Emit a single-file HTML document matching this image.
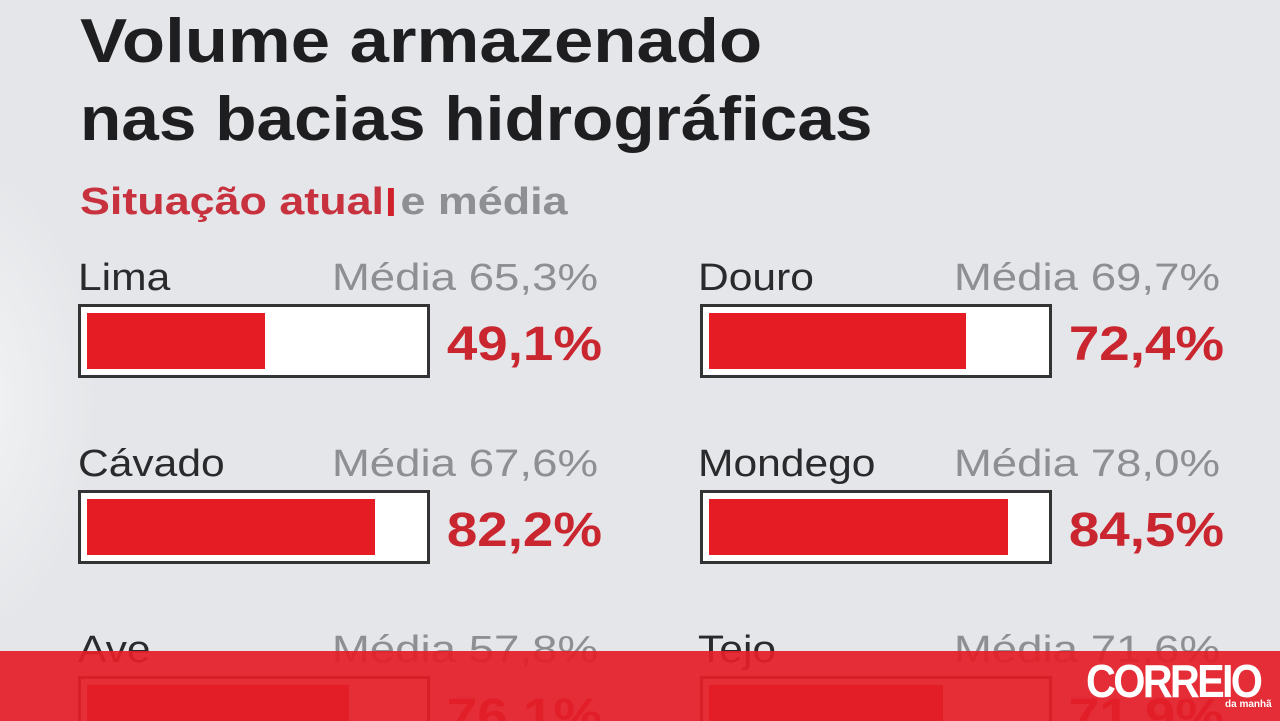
<!DOCTYPE html>
<html style="width:1280px;height:721px;overflow:hidden"><head><meta charset="utf-8"><style>
html,body{margin:0;width:1280px;height:721px;overflow:hidden}
body{background:#e4e6e9;font-family:"Liberation Sans",sans-serif;position:relative}
.glow{position:absolute;left:-200px;top:150px;width:300px;height:500px;background:radial-gradient(ellipse at center,#f4f5f6 0%,rgba(228,230,233,0) 70%)}
.t{position:absolute;left:80px;font-weight:bold;font-size:62px;line-height:62px;color:#1e1e20;white-space:nowrap;transform:scaleX(1.13);transform-origin:left}
.sub{position:absolute;left:80px;top:182px;font-weight:bold;font-size:38px;line-height:40px;white-space:nowrap;transform:scaleX(1.18);transform-origin:left}
.lab{position:absolute;font-size:38px;line-height:40px;color:#2a2a2c;transform:scaleX(1.12);transform-origin:left;white-space:nowrap}
.med{position:absolute;font-size:38px;line-height:40px;color:#8d8f93;text-align:right;width:300px;transform:scaleX(1.2);transform-origin:right;white-space:nowrap}
.box{position:absolute;width:352px;height:74px;border:3px solid #333;background:#fff;box-sizing:border-box}
.fill{position:absolute;left:6px;top:6px;bottom:6px;background:#e51c23}
.val{position:absolute;font-size:48px;line-height:50px;font-weight:bold;color:#c9262f;text-align:right;width:200px;transform:scaleX(1.14);transform-origin:right;white-space:nowrap}
.band{position:absolute;left:0;top:651px;width:1280px;height:70px;background:rgba(228,30,40,0.93)}
.logo{position:absolute;left:1086px;top:654px;color:#fff;font-weight:bold;font-size:46px;letter-spacing:-3px;transform:scaleX(0.9);transform-origin:left}
.dm{position:absolute;left:1225px;top:699px;color:#fff;font-size:10px;font-weight:bold}
</style></head><body>
<div class="glow"></div>
<div class="t" style="top:11px;transform:scaleX(1.14)">Volume armazenado</div>
<div class="t" style="top:89px;transform:scaleX(1.09)">nas bacias hidrográficas</div>
<div class="sub"><span style="color:#c8323e">Situação atual</span><span style="display:inline-block;width:5px;height:28px;background:#d0202a;margin:0 6px 0 3px;vertical-align:-2px"></span><span style="color:#8d8f93">e média</span></div>

<div class="lab" style="left:78px;top:258px">Lima</div>
<div class="med" style="left:298px;top:258px">Média 65,3%</div>
<div class="box" style="left:78px;top:304px"><div class="fill" style="width:178px"></div></div>
<div class="val" style="left:402px;top:320px">49,1%</div>

<div class="lab" style="left:698px;top:258px">Douro</div>
<div class="med" style="left:920px;top:258px">Média 69,7%</div>
<div class="box" style="left:700px;top:304px"><div class="fill" style="width:257px"></div></div>
<div class="val" style="left:1024px;top:320px">72,4%</div>

<div class="lab" style="left:78px;top:444px">Cávado</div>
<div class="med" style="left:298px;top:444px">Média 67,6%</div>
<div class="box" style="left:78px;top:490px"><div class="fill" style="width:288px"></div></div>
<div class="val" style="left:402px;top:506px">82,2%</div>

<div class="lab" style="left:698px;top:444px">Mondego</div>
<div class="med" style="left:920px;top:444px">Média 78,0%</div>
<div class="box" style="left:700px;top:490px"><div class="fill" style="width:299px"></div></div>
<div class="val" style="left:1024px;top:506px">84,5%</div>

<div class="lab" style="left:78px;top:630px">Ave</div>
<div class="med" style="left:298px;top:630px">Média 57,8%</div>
<div class="box" style="left:78px;top:676px"><div class="fill" style="width:262px"></div></div>
<div class="val" style="left:402px;top:692px">76,1%</div>

<div class="lab" style="left:698px;top:630px">Tejo</div>
<div class="med" style="left:920px;top:630px">Média 71,6%</div>
<div class="box" style="left:700px;top:676px"><div class="fill" style="width:234px"></div></div>
<div class="val" style="left:1024px;top:692px">71,9%</div>

<div class="band"></div>
<div class="logo">CORREIO</div>
<div class="dm">da manhã</div>
</body></html>
